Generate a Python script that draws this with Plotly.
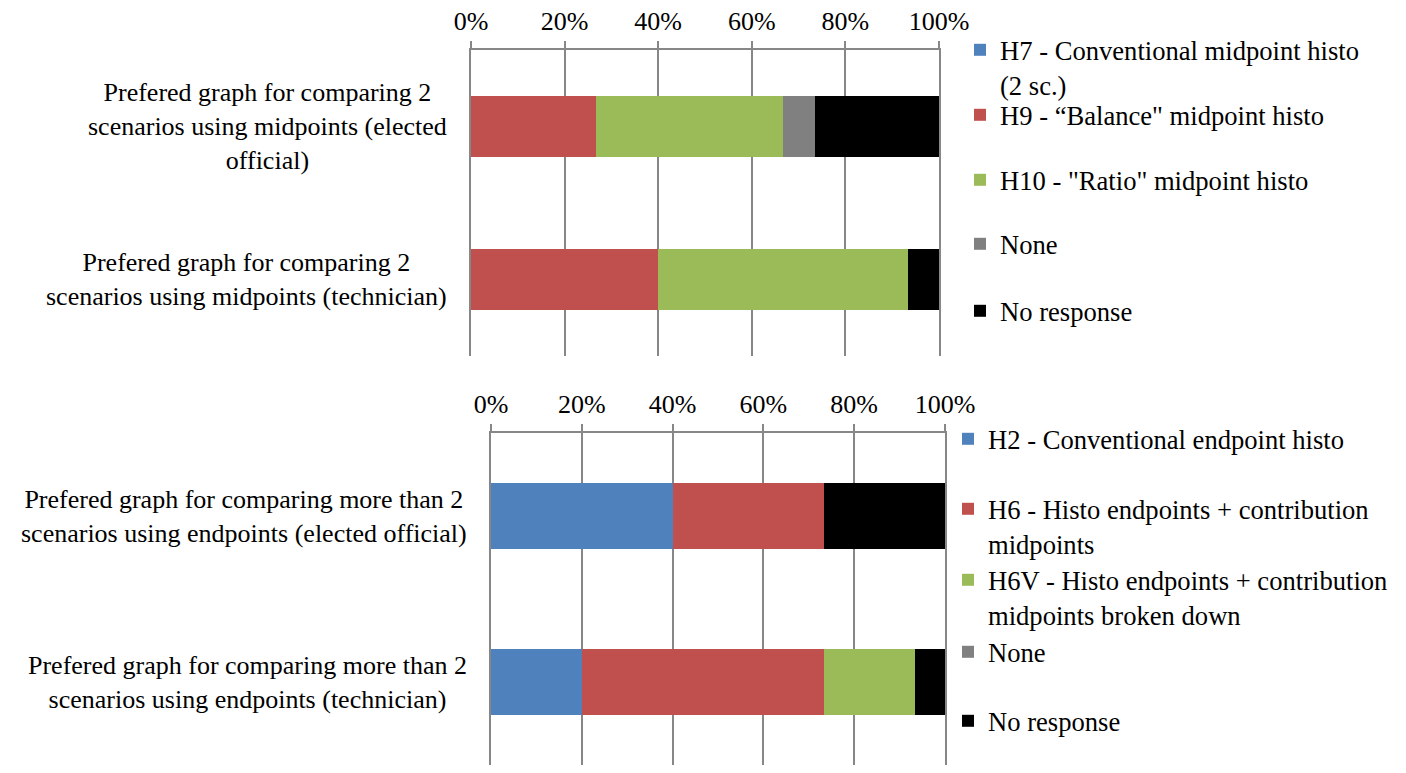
import plotly.graph_objects as go

# top chart - midpoints
mid_categories = [
    "Prefered graph for comparing 2<br>scenarios using midpoints (elected<br>official)",
    "Prefered graph for comparing 2<br>scenarios using midpoints (technician)",
]
mid_series = [
    "H7 - Conventional midpoint histo<br>(2 sc.)",
    "H9 - \u201cBalance\" midpoint histo",
    "H10 - \"Ratio\" midpoint histo",
    "None",
    "No response",
]
mid_h7 = [0, 0]
mid_h9 = [26.7, 40.0]
mid_h10 = [40.0, 53.3]
mid_none = [6.7, 0]
mid_noresp = [26.7, 6.7]

# bottom chart - endpoints
end_categories = [
    "Prefered graph for comparing more than 2<br>scenarios using endpoints (elected official)",
    "Prefered graph for comparing more than 2<br>scenarios using endpoints (technician)",
]
end_series = [
    "H2 - Conventional endpoint histo",
    "H6 - Histo endpoints + contribution<br>midpoints",
    "H6V - Histo endpoints + contribution<br>midpoints broken down",
    "None",
    "No response",
]
end_h2 = [40.0, 20.0]
end_h6 = [33.3, 53.3]
end_h6v = [0, 20.0]
end_none = [0, 0]
end_noresp = [26.7, 6.7]

colors = ["#4F81BD", "#C0504D", "#9BBB59", "#808080", "#000000"]

# page has an 8px body margin, so the figure is placed at (8, 8)
OFF = 8
W, H = 1406 - 2 * OFF, 773 - 2 * OFF
FONT = "Liberation Serif"
GRID = "#878787"


def px_x(px):
    return (px - OFF) / W


def px_y(px):
    return min(1, max(0, 1 - (px - OFF) / H))


fig = go.Figure()

mid_values = [mid_h7, mid_h9, mid_h10, mid_none, mid_noresp]
end_values = [end_h2, end_h6, end_h6v, end_none, end_noresp]

for i, (name, vals) in enumerate(zip(mid_series, mid_values)):
    fig.add_trace(go.Bar(x=vals, y=mid_categories, orientation="h", name=name,
                         marker=dict(color=colors[i], line=dict(width=0)),
                         xaxis="x", yaxis="y", showlegend=True,
                         legend=f"legend{i + 2}"))

for i, (name, vals) in enumerate(zip(end_series, end_values)):
    fig.add_trace(go.Bar(x=vals, y=end_categories, orientation="h", name=name,
                         marker=dict(color=colors[i], line=dict(width=0)),
                         xaxis="x2", yaxis="y2", showlegend=True,
                         legend=f"legend{i + 7}"))

xaxis_style = dict(range=[0, 100], dtick=20, ticksuffix="%", side="top",
                   showline=True, linecolor=GRID, linewidth=1.5,
                   ticks="outside", ticklen=7, tickcolor=GRID, tickwidth=1.5,
                   ticklabelstandoff=1,
                   showgrid=True, gridcolor=GRID, gridwidth=1.5,
                   zeroline=False, fixedrange=True)
# y axis line + mirror gives the 0% / 100% gridlines plotly drops at the edges
yaxis_style = dict(showticklabels=False, showgrid=False, zeroline=False,
                   showline=True, mirror=True, linecolor=GRID, linewidth=1.5,
                   autorange="reversed", fixedrange=True)

fig.update_layout(
    width=W, height=H,
    margin=dict(l=0, r=0, t=0, b=0, autoexpand=False),
    paper_bgcolor="white", plot_bgcolor="white",
    font=dict(family=FONT, size=26, color="black"),
    showlegend=True,
    barmode="stack", bargap=0.6,
    xaxis=dict(domain=[px_x(471), px_x(939)], anchor="y", **xaxis_style),
    yaxis=dict(domain=[px_y(356), px_y(50)], anchor="x", **yaxis_style),
    xaxis2=dict(domain=[px_x(491), px_x(945)], anchor="y2", **xaxis_style),
    yaxis2=dict(domain=[px_y(771), px_y(433)], anchor="x2", **yaxis_style),
)

# one legend per entry so the spacing follows the original layout
mid_legend_y = [52, 117, 182, 246, 313]
end_legend_y = [441, 511, 582, 654, 723]
legend_specs = [(960, y) for y in mid_legend_y] + [(948, y) for y in end_legend_y]
for i, (lx, ly) in enumerate(legend_specs):
    fig.update_layout({f"legend{i + 2}": dict(
        x=px_x(lx), y=px_y(ly - 26), xanchor="left", yanchor="top",
        bgcolor="rgba(0,0,0,0)", valign="top",
        font=dict(family=FONT, size=26.6, color="black"))})

for cats, yref, xref in [(mid_categories, "y", "x domain"), (end_categories, "y2", "x2 domain")]:
    for c in cats:
        fig.add_annotation(text=c, xref=xref, yref=yref, x=0, y=c, xanchor="right",
                           xshift=-22, align="center", showarrow=False,
                           font=dict(family=FONT, size=26, color="black"))

fig.write_html("out.html")
